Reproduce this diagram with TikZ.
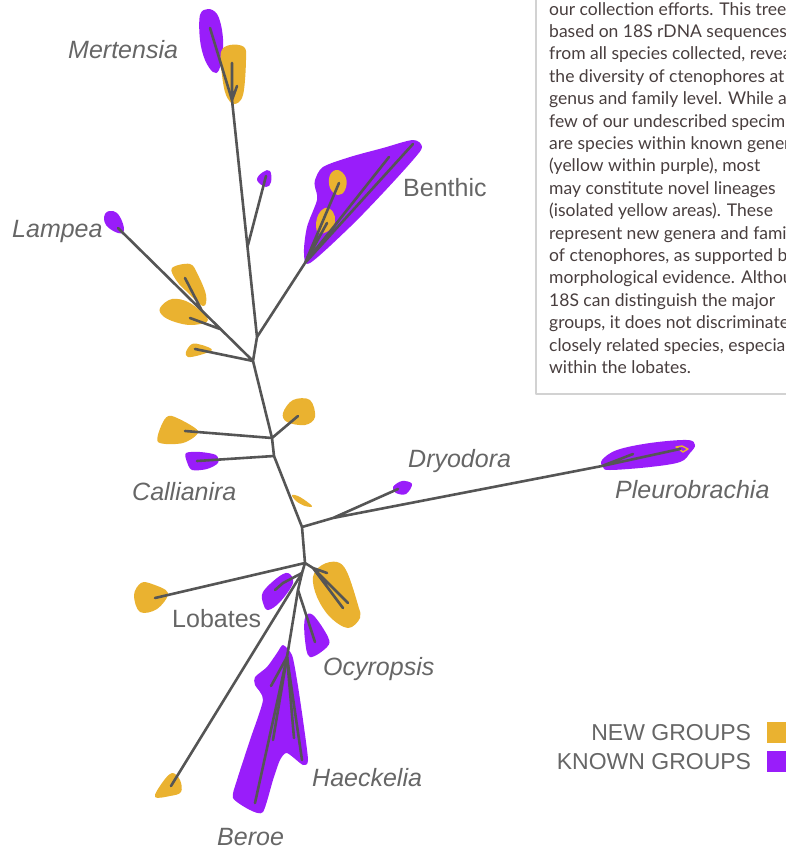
\documentclass[tikz,border=0pt]{standalone}
\usepackage{fontspec}
\setmainfont{Liberation Sans}
\newfontfamily\bodyfont{Lato}
\usetikzlibrary{positioning}

\definecolor{newyellow}{RGB}{234,178,48}
\definecolor{knownpurple}{RGB}{153,29,250}
\definecolor{branchgray}{RGB}{85,85,85}
\definecolor{labelgray}{RGB}{102,102,102}
\definecolor{bodybrown}{RGB}{72,62,62}
\definecolor{boxgray}{RGB}{210,210,210}

\begin{document}
\begin{tikzpicture}[x=1pt, y=-1pt, line cap=round, line join=round,
  branch/.style={draw=branchgray, line width=2.6pt},
  newblob/.style={fill=newyellow},
  knownblob/.style={fill=knownpurple},
  taxon/.style={text=labelgray, inner sep=0pt, anchor=base west, font=\fontsize{25}{30}\selectfont\itshape},
  grouplabel/.style={text=labelgray, inner sep=0pt, anchor=base west, font=\fontsize{25}{30}\selectfont},
  bodytext/.style={text=bodybrown, inner sep=0pt, anchor=base west, font=\bodyfont\fontsize{17.5}{22}\selectfont},
  keybox/.style={minimum size=21pt, inner sep=0pt},
  keytext/.style={text=labelgray, inner sep=0pt, font=\fontsize{23}{26}\selectfont}]
  \useasboundingbox (0,0) rectangle (786,852);

  % text box
  \begin{scope}
    \clip (0,0) rectangle (786,852);
    \draw[boxgray, line width=2.4pt] (536,-10) |- (800,394);
    \foreach \txt [count=\i] in {{our collection efforts. This tree,},
      {based on 18S rDNA sequences},
      {from all species collected, reveals},
      {the diversity of ctenophores at the},
      {genus and family level. While a},
      {few of our undescribed specimens},
      {are species within known genera},
      {(yellow within purple), most},
      {may constitute novel lineages},
      {(isolated yellow areas). These},
      {represent new genera and families},
      {of ctenophores, as supported by},
      {morphological evidence. Although},
      {18S can distinguish the major},
      {groups, it does not discriminate},
      {closely related species, especially},
      {within the lobates.}}
      \node[bodytext] (body\i) at (549,{15+22.4*(\i-1)}) {\txt};
  \end{scope}

  % blobs
  \fill[knownblob] plot[smooth cycle, tension=.6] coordinates {(200,15) (208,9) (217,14) (222,30) (223,50) (219,70) (213,72) (205,60) (200,40)};
  \fill[newblob] plot[smooth cycle, tension=.6] coordinates {(221,52) (230,45) (244,47) (246,60) (243,95) (234,104) (226,95) (222,75)};
  \fill[knownblob] plot[smooth cycle, tension=.5] coordinates {(315,180) (323,167) (350,157) (383,148) (413,140) (422,147) (413,160) (383,193) (350,227) (310,263) (304,253) (307,227) (317,200) (315,187)};
  \fill[newblob] plot[smooth cycle, tension=.7] coordinates {(330,175) (338,170) (346,178) (345,190) (338,195) (330,188)};
  \fill[newblob] plot[smooth cycle, tension=.7] coordinates {(317,218) (325,208) (333,212) (335,222) (330,230) (318,233)};
  \fill[knownblob] plot[smooth cycle, tension=.7] coordinates {(257,180) (263,172) (270,171) (271,182) (266,187)};
  \fill[knownblob] plot[smooth cycle, tension=.7] coordinates {(105,214) (113,211) (120,217) (124,230) (118,233) (106,225)};
  \fill[newblob] plot[smooth cycle, tension=.6] coordinates {(172,268) (190,264) (198,275) (206,295) (203,306) (185,290) (176,280)};
  \fill[newblob] plot[smooth cycle, tension=.6] coordinates {(160,308) (172,299) (190,303) (208,320) (192,325) (175,322) (163,316)};
  \fill[newblob] plot[smooth cycle, tension=.6] coordinates {(186,352) (192,344) (202,345) (212,350) (200,355) (188,357)};
  \fill[newblob] plot[smooth cycle, tension=.6] coordinates {(283,413) (293,400) (310,400) (315,417) (305,425) (287,422)};
  \fill[newblob] plot[smooth cycle, tension=.5] coordinates {(158,442) (163,422) (172,416) (198,431) (183,443)};
  \fill[knownblob] plot[smooth cycle, tension=.5] coordinates {(186,453) (200,452) (216,455) (218,463) (207,469) (192,470) (187,462)};
  \fill[newblob] plot[smooth cycle, tension=.6] coordinates {(292,495) (300,497) (312,506) (305,506) (296,501)};
  \fill[knownblob] plot[smooth cycle, tension=.6] coordinates {(393,487) (402,481) (412,484) (406,494) (396,493)};
  \fill[knownblob] plot[smooth cycle, tension=.6] coordinates {(602,460) (617,450) (650,443) (687,440) (695,445) (690,453) (680,462) (650,467) (610,470) (603,467)};
  \draw[newyellow, line width=1.4pt] (676,447) -- (682,446) -- (688,449) -- (683,452) -- cycle;
  \fill[newblob] plot[smooth cycle, tension=.6] coordinates {(134,595) (141,583) (152,584) (168,593) (157,609) (140,612)};
  \fill[knownblob] plot[smooth cycle, tension=.6] coordinates {(263,592) (277,578) (288,573) (293,583) (280,602) (268,610) (263,603)};
  \fill[newblob] plot[smooth cycle, tension=.6] coordinates {(313,577) (322,565) (337,562) (347,572) (358,605) (360,618) (348,628) (330,617) (317,597)};
  \fill[knownblob] plot[smooth cycle, tension=.6] coordinates {(305,618) (313,615) (328,637) (327,647) (310,657) (305,640)};
  \fill[knownblob] plot[smooth cycle, tension=.4] coordinates {(283,645) (292,655) (297,680) (303,720) (308,760) (303,765) (287,753) (280,760) (273,780) (263,812) (250,810) (233,798) (237,780) (250,740) (263,700) (255,685) (255,677) (267,667) (277,653)};
  \fill[newblob] plot[smooth cycle, tension=.6] coordinates {(155,797) (162,783) (172,773) (180,780) (181,792) (170,796)};

  % joints
  \coordinate (mert) at (232,100);
  \coordinate (side) at (248,245);
  \coordinate (benj) at (257,337);
  \coordinate (benb) at (305,263);
  \coordinate (lamj) at (253,361);
  \coordinate (lam1) at (220,329);
  \coordinate (lam2) at (202,311);
  \coordinate (calj) at (272,438);
  \coordinate (calk) at (274,456);
  \coordinate (pleuj) at (302,527);
  \coordinate (pleuk) at (333,518);
  \coordinate (pleum) at (602,466);
  \coordinate (lobj) at (305,563);
  \coordinate (lobk) at (313,568);
  \coordinate (berj) at (302,573);
  \coordinate (lobm) at (283,583);
  \coordinate (ocyj) at (298,590);
  \coordinate (haej) at (287,657);
  % tips
  \coordinate (mertA) at (210,28);
  \coordinate (mertB) at (232,63);
  \coordinate (mertC) at (237,86);
  \coordinate (sideT) at (266,176);
  \coordinate (benA) at (413,144);
  \coordinate (benB) at (389,157);
  \coordinate (benC) at (339,183);
  \coordinate (benD) at (327,223);
  \coordinate (lampT) at (118,228);
  \coordinate (lamA) at (190,318);
  \coordinate (lamB) at (185,278);
  \coordinate (lamC) at (195,349);
  \coordinate (calA) at (298,416);
  \coordinate (calB) at (185,431);
  \coordinate (calC) at (197,461);
  \coordinate (dryT) at (398,489);
  \coordinate (pleuA) at (633,454);
  \coordinate (pleuB) at (680,449);
  \coordinate (lobA) at (155,598);
  \coordinate (lobB) at (275,590);
  \coordinate (lobC) at (348,603);
  \coordinate (lobD) at (343,608);
  \coordinate (lobE) at (327,573);
  \coordinate (ocyT) at (315,642);
  \coordinate (berY) at (171,786);
  \coordinate (haeA) at (255,803);
  \coordinate (haeB) at (302,760);
  \coordinate (haeC) at (294,738);
  \coordinate (haeD) at (271,686);
  \coordinate (haeE) at (273,740);

  % branches
  \draw[branch] (mertA) -- (mert) -- (benj) -- (lamj) -- (calj) -- (calk) -- (pleuj) -- (lobj) -- (berj) -- (ocyj) -- (haej);
  \draw[branch] (mert) -- (mertB) (mert) -- (mertC) (side) -- (sideT);
  \draw[branch] (benj) -- (benb) (benb) -- (benA) (benb) -- (benB) (benb) -- (benC) (benb) -- (benD);
  \draw[branch] (lamj) -- (lampT) (lam1) -- (lamA) (lam2) -- (lamB) (lamj) -- (lamC);
  \draw[branch] (calj) -- (calA) (calj) -- (calB) (calk) -- (calC);
  \draw[branch] (pleuj) -- (pleuk) -- (pleum) -- (pleuB) (pleum) -- (pleuA) (pleuk) -- (dryT);
  \draw[branch] (lobj) -- (lobA) (berj) -- (lobm) -- (lobB) (lobj) -- (lobk) -- (lobC) (lobk) -- (lobD) (lobk) -- (lobE);
  \draw[branch] (berj) -- (berY) (ocyj) -- (ocyT);
  \foreach \t in {haeA,haeB,haeC,haeD,haeE} { \draw[branch] (haej) -- (\t); }

  % labels
  \node[taxon] (mertensia) at (68,58) {Mertensia};
  \node[taxon] (lampea) at (12,237) {Lampea};
  \node[grouplabel] (benthic) at (403,196) {Benthic};
  \node[taxon] (callianira) at (132,500) {Callianira};
  \node[taxon] (dryodora) at (408,467) {Dryodora};
  \node[taxon] (pleurobrachia) at (615,498) {Pleurobrachia};
  \node[grouplabel] (lobates) at (172,627) {Lobates};
  \node[taxon] (ocyropsis) at (323,675) {Ocyropsis};
  \node[taxon] (haeckelia) at (312,786) {Haeckelia};
  \node[taxon] (beroe) at (217,845) {Beroe};

  % legend
  \node[keybox, fill=newyellow] (newkey) at (777,732.5) {};
  \node[keybox, fill=knownpurple] (knownkey) at (777,761.5) {};
  \node[keytext, left=15pt of newkey] (newtext) {NEW GROUPS};
  \node[keytext, left=15pt of knownkey] (knowntext) {KNOWN GROUPS};
\end{tikzpicture}
\end{document}
